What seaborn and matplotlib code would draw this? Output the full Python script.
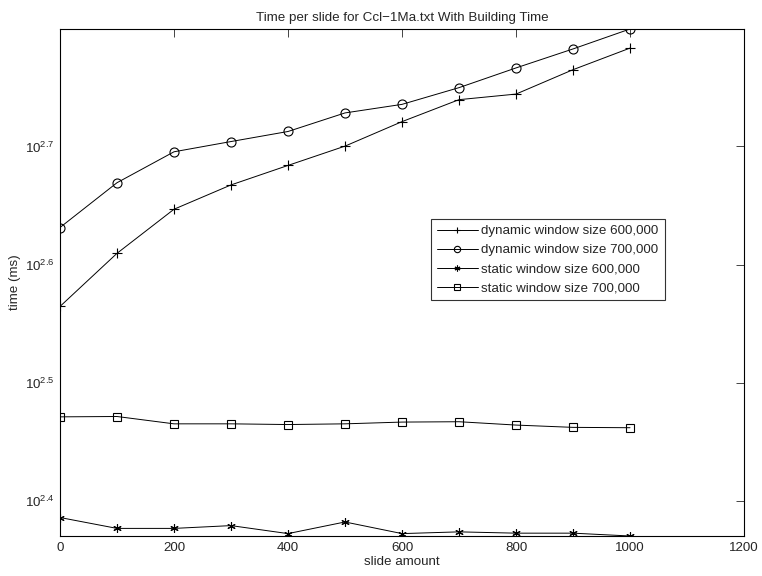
import numpy as np
import pandas as pd
import seaborn as sns
import matplotlib
matplotlib.use('Agg')
import matplotlib.pyplot as plt
from matplotlib.ticker import FixedLocator, FuncFormatter, NullLocator

# Datos (ms)
slide = [0, 100, 200, 300, 400, 500, 600, 700, 800, 900, 1000]
dyn_600 = [367, 407, 443.5, 465, 483, 501.5, 526, 549, 555, 582, 607]
dyn_700 = [428, 467, 496, 506, 516, 535, 544, 562, 584, 606, 630]
sta_600 = [243.3, 238.2, 238.2, 239.5, 235.8, 241.2, 235.8, 236.6, 236.0, 236.0, 234.7]
sta_700 = [296, 296.2, 292, 292, 291.6, 292, 293, 293.2, 291.3, 290, 289.8]

labels = ['dynamic window size 600,000', 'dynamic window size 700,000',
          'static window size 600,000', 'static window size 700,000']
series = [dyn_600, dyn_700, sta_600, sta_700]
markers = ['+', 'o', (6, 2, 0), 's']
msizes = [7, 6.5, 6, 5.5]

sns.set_style('white')
plt.rcParams['font.family'] = ['Liberation Sans', 'DejaVu Sans']
plt.rcParams['mathtext.fontset'] = 'custom'
plt.rcParams['mathtext.rm'] = 'Liberation Sans'
plt.rcParams['mathtext.it'] = 'Liberation Sans'
plt.rcParams['mathtext.default'] = 'regular'

fs = 9.6
fig = plt.figure(figsize=(7.62, 5.76), dpi=100)
ax = fig.add_axes([60 / 762, 1 - 536 / 576, 684 / 762, 507 / 576])

for vals, lab, mk, ms in zip(series, labels, markers, msizes):
    df = pd.DataFrame({'slide': slide, 'time': vals})
    sns.lineplot(data=df, x='slide', y='time', ax=ax, color='black', lw=0.7,
                 marker=mk, markersize=ms, markerfacecolor='none',
                 markeredgecolor='black', markeredgewidth=0.8, label=lab)

ax.set_yscale('log')
ax.set_xlim(0, 1200)
ax.set_ylim(min(sta_600), max(dyn_700))
ax.set_xticks([0, 200, 400, 600, 800, 1000, 1200])
ax.yaxis.set_major_locator(FixedLocator(10 ** np.array([2.4, 2.5, 2.6, 2.7])))
ax.yaxis.set_minor_locator(NullLocator())
ax.yaxis.set_major_formatter(FuncFormatter(lambda v, p: r'$10^{%.1f}$' % np.log10(v)))

ax.tick_params(direction='in', length=6, width=0.6, labelsize=fs,
               top=True, right=True, pad=4)
for s in ax.spines.values():
    s.set_visible(True)
    s.set_color('black')
    s.set_linewidth(0.8)

ax.set_xlabel('slide amount', fontsize=fs, labelpad=2)
ax.set_ylabel('time (ms)', fontsize=fs, labelpad=3)
ax.set_title('Time per slide for Ccl\u22121Ma.txt With Building Time', fontsize=fs, pad=6)

leg = ax.legend(loc='upper left', bbox_to_anchor=(0.542, 0.625), fontsize=fs,
                frameon=True, fancybox=False, edgecolor='black', handlelength=3.1,
                borderpad=0.45, labelspacing=0.5, markerscale=0.7,
                handletextpad=0.25, borderaxespad=0)
leg.get_frame().set_linewidth(0.8)

fig.savefig('out.png', dpi=100)
